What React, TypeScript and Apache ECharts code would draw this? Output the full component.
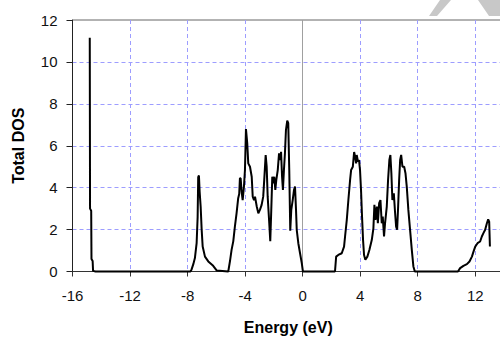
import React, { useEffect, useRef } from "react";
import * as echarts from "echarts";

const energy = [
  -14.8, -14.78, -14.7, -14.68, -14.6, -14.57, -14.4, -7.8, -7.72, -7.6, -7.49, -7.37, -7.3, -7.26,
  -7.21, -7.16, -7.09, -7.02, -6.95, -6.79, -6.56, -6.22, -5.98, -5.17, -5.05, -4.94, -4.82, -4.71,
  -4.59, -4.48, -4.41, -4.36, -4.31, -4.24, -4.17, -4.08, -4.01, -3.94, -3.85, -3.78, -3.66, -3.54,
  -3.47, -3.38, -3.31, -3.19, -3.08, -2.97, -2.85, -2.74, -2.67, -2.57, -2.5, -2.43, -2.32, -2.25,
  -2.18, -2.11, -2.04, -1.97, -1.9, -1.83, -1.73, -1.64, -1.57, -1.5, -1.43, -1.37, -1.3, -1.23,
  -1.16, -1.07, -1.0, -0.93, -0.86, -0.79, -0.69, -0.6, -0.53, -0.46, -0.41, -0.3, -0.18, -0.06,
  0.02, 2.25, 2.33, 2.48, 2.72, 2.88, 2.95, 3.07, 3.18, 3.3, 3.37, 3.49, 3.58, 3.65, 3.72, 3.76,
  3.85, 3.92, 3.99, 4.06, 4.13, 4.2, 4.27, 4.36, 4.5, 4.64, 4.81, 4.92, 4.99, 5.06, 5.16, 5.23,
  5.32, 5.41, 5.5, 5.57, 5.66, 5.73, 5.85, 5.94, 6.03, 6.1, 6.17, 6.24, 6.34, 6.43, 6.5, 6.57,
  6.64, 6.71, 6.78, 6.85, 6.94, 7.06, 7.15, 7.24, 7.35, 7.47, 7.59, 7.7, 7.8, 10.8, 10.95, 11.18,
  11.42, 11.6, 11.77, 11.88, 12.0, 12.16, 12.34, 12.46, 12.57, 12.69, 12.81, 12.9, 12.97, 13.02,
];

const totalDos = [
  11.15, 3.0, 2.9, 0.6, 0.5, 0.03, 0, 0, 0.1, 0.35, 0.64, 1.35, 2.6, 4.5,
  4.58, 3.8, 3.1, 2.0, 1.19, 0.71, 0.48, 0.27, 0.05, 0, 0.5, 1.03, 1.45, 2.14,
  2.8, 3.5, 3.7, 4.45, 4.45, 3.8, 3.41, 4.05, 4.84, 6.8, 6.11, 5.16, 5.0, 4.52,
  3.57, 3.41, 3.57, 3.1, 2.78, 2.94, 3.18, 3.57, 4.37, 5.56, 5.0, 3.57, 2.3, 1.45,
  2.94, 4.52, 4.21, 4.52, 3.89, 4.37, 4.84, 5.64, 5.32, 5.71, 4.52, 3.89, 4.84, 5.64,
  6.75, 7.2, 7.08, 4.84, 1.95, 2.94, 3.41, 3.89, 4.05, 2.94, 1.99, 1.35, 0.87, 0.4,
  0, 0, 0.71, 0.79, 0.87, 1.19, 1.67, 2.46, 3.41, 4.37, 4.84, 5.0, 5.7, 5.48, 5.16, 5.56,
  5.24, 5.32, 4.84, 3.89, 2.62, 1.51, 0.79, 0.56, 0.71, 1.03, 1.51, 2.06, 3.18, 2.46, 3.1, 2.3,
  3.26, 3.41, 2.3, 2.62, 1.67, 2.3, 3.1, 4.37, 5.32, 5.56, 4.69, 3.41, 3.73, 2.78, 2.14, 1.99,
  3.1, 4.37, 5.32, 5.56, 5.0, 5.0, 4.69, 4.05, 2.94, 1.99, 1.03, 0.24, 0, 0, 0.16, 0.27,
  0.35, 0.48, 0.71, 0.95, 1.19, 1.35, 1.43, 1.67, 1.83, 1.99, 2.3, 2.49, 2.38, 1.19,
];

const xTicks = { min: -16, max: 14, interval: 4 };
const yTicks = { min: 0, max: 12, interval: 2 };

const FONT = "'Liberation Sans', Arial, sans-serif";

export default function App() {
  const ref = useRef<HTMLDivElement>(null);
  useEffect(() => {
    if (!ref.current) return;
    const chart = echarts.init(ref.current, undefined, { renderer: "svg" });
    const data = energy.map((e, i) => [e, totalDos[i]]);
    chart.setOption({
      animation: false,
      backgroundColor: "#ffffff",
      textStyle: { fontFamily: FONT },
      grid: {
        left: 72.5,
        right: 0,
        top: 20,
        bottom: 65.5,
        containLabel: false,
        outerBoundsMode: "none",
        show: true,
        borderColor: "#666666",
        borderWidth: 1,
        backgroundColor: "transparent",
      },
      xAxis: {
        type: "value",
        min: xTicks.min,
        max: xTicks.max,
        interval: xTicks.interval,
        name: "Energy (eV)",
        nameLocation: "middle",
        nameGap: 48,
        nameTextStyle: { fontFamily: FONT, fontSize: 16, fontWeight: "bold", color: "#000" },
        axisLine: { show: true, onZero: false, lineStyle: { color: "#333", width: 1 } },
        axisTick: { show: true, length: 5, lineStyle: { color: "#333" } },
        axisLabel: {
          fontFamily: FONT,
          fontSize: 15,
          color: "#111",
          margin: 16,
          showMaxLabel: false,
        },
        splitLine: {
          show: true,
          showMinLine: false,
          showMaxLine: false,
          lineStyle: { color: "#9d9dff", type: [4, 3], width: 1 },
        },
      },
      yAxis: {
        type: "value",
        min: yTicks.min,
        max: yTicks.max,
        interval: yTicks.interval,
        name: "Total DOS",
        nameLocation: "middle",
        nameGap: 46,
        nameTextStyle: { fontFamily: FONT, fontSize: 16, fontWeight: "bold", color: "#000" },
        axisLine: { show: true, onZero: false, lineStyle: { color: "#222", width: 1 } },
        axisTick: { show: true, length: 6, lineStyle: { color: "#222" } },
        axisLabel: { fontFamily: FONT, fontSize: 15, color: "#111", margin: 15 },
        splitLine: {
          show: true,
          showMinLine: false,
          showMaxLine: false,
          lineStyle: { color: "#9d9dff", type: [4, 3], width: 1 },
        },
      },
      graphic: [
        {
          type: "polygon",
          silent: true,
          shape: { points: [[429, 16], [437, 16], [451, 0], [440, 0]] },
          style: { fill: "#c8c8c8" },
        },
        {
          type: "polygon",
          silent: true,
          shape: { points: [[478, 0], [504, 0], [504, 16], [489, 16]] },
          style: { fill: "#c8c8c8" },
        },
      ],
      series: [
        {
          type: "line",
          data,
          symbol: "none",
          lineStyle: { color: "#000", width: 2 },
          clip: false,
          markLine: {
            silent: true,
            symbol: "none",
            label: { show: false },
            lineStyle: { color: "#a0a0a0", type: "solid", width: 1 },
            data: [{ xAxis: 0 }],
          },
          z: 5,
        },
      ],
    });
    return () => chart.dispose();
  }, []);
  return (
    <div
      style={{
        position: "fixed",
        left: 0,
        top: 0,
        width: 500,
        height: 337,
        overflow: "hidden",
        background: "#fff",
      }}
    >
      <div ref={ref} style={{ width: 504, height: 337 }} />
    </div>
  );
}
